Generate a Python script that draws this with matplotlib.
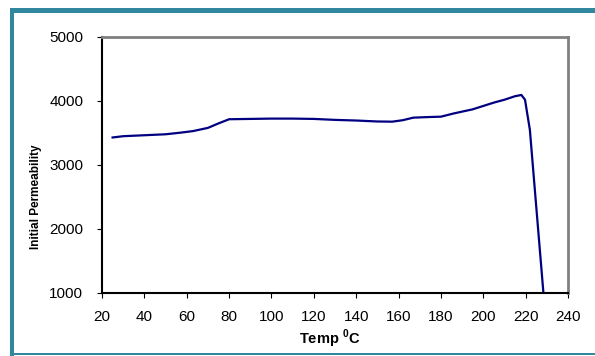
import matplotlib.pyplot as plt
from matplotlib.patches import Rectangle
import numpy as np

plt.rcParams.update({'font.family': 'Liberation Sans',
                     'mathtext.fontset': 'custom',
                     'mathtext.rm': 'Liberation Sans',
                     'mathtext.bf': 'Liberation Sans:bold'})

# temperature (C) vs initial permeability
temp = [25, 30, 40, 50, 57, 63, 70, 75, 80, 90, 100, 110, 120, 130, 140, 150,
        157, 162, 167, 175, 180, 186, 195, 205, 210, 215, 218, 219.7, 222, 224, 228.4]
perm = [3430, 3450, 3465, 3480, 3505, 3530, 3580, 3650, 3715, 3720, 3725, 3725, 3720,
        3705, 3695, 3680, 3677, 3700, 3740, 3750, 3755, 3805, 3870, 3975, 4020, 4075,
        4094, 4020, 3550, 2750, 1000]

xticks = np.arange(20, 241, 20)
yticks = [1000, 2000, 3000, 4000, 5000]

W, H = 595, 356
fig = plt.figure(figsize=(W / 100, H / 100), dpi=100)
ax = fig.add_axes([102 / W, 1 - 293 / H, 466 / W, 256 / H])

ax.plot(temp, perm, color='#000080', lw=1.6, solid_joinstyle='round', clip_on=True)

ax.set_xlim(20, 240)
ax.set_ylim(1000, 5000)
ax.set_xticks(xticks)
ax.set_yticks(yticks)
ax.tick_params(direction='out', length=3.5, width=0.8, labelsize=11, pad=9, colors='black')
ax.tick_params(axis='y', pad=10)
for s in ['left', 'bottom']:
    ax.spines[s].set_color('black')
    ax.spines[s].set_linewidth(1.5)
for s in ['top', 'right']:
    ax.spines[s].set_color('#808080')
    ax.spines[s].set_linewidth(2)

fig.text(36 / W, 1 - 197 / H, 'Initial Permeability', rotation=90, ha='center',
         va='center', fontsize=8.5, fontweight='bold')
fig.text(330 / W, 1 - 339 / H, r'Temp $^\mathbf{0}$C', ha='center', va='center',
         fontsize=10.5, fontweight='bold')

teal = '#31879d'
fig.patches.append(Rectangle((10 / W, 1 - 13 / H), 585 / W, 5 / H, transform=fig.transFigure,
                             color=teal, lw=0))
fig.patches.append(Rectangle((10 / W, 0), 4 / W, 1 - 8 / H, transform=fig.transFigure,
                             color=teal, lw=0))
fig.patches.append(Rectangle((10 / W, 1 / H), 585 / W, 2 / H, transform=fig.transFigure,
                             color=teal, lw=0))

fig.savefig('out.png', dpi=100)
